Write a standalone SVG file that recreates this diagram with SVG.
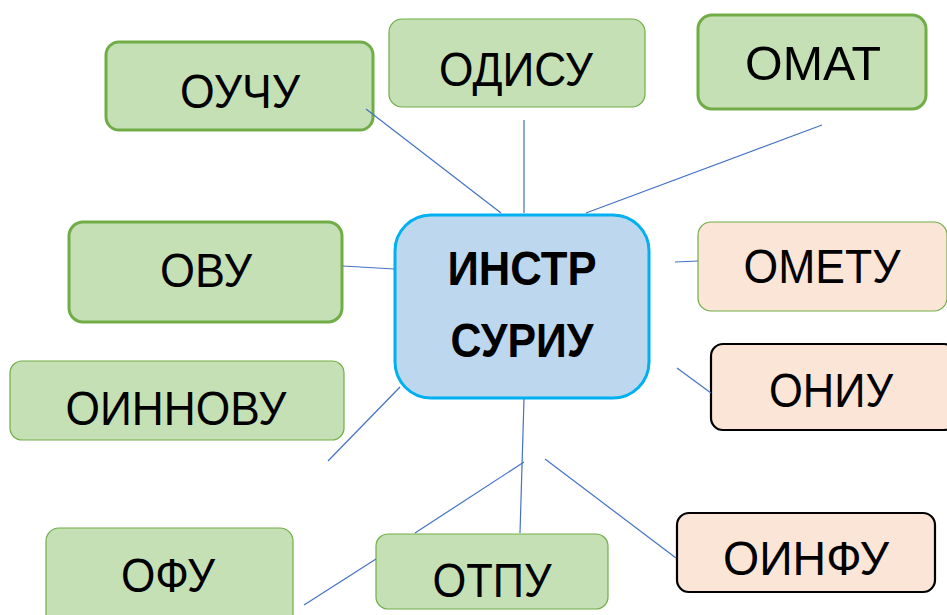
<svg xmlns="http://www.w3.org/2000/svg" width="947" height="615" viewBox="0 0 947 615">
<style>
.g{fill:#C5E0B4;stroke:#70AD47;stroke-width:1.2}
.gt{fill:#C5E0B4;stroke:#70AD47;stroke-width:3}
.p{fill:#FBE5D6;stroke:#70AD47;stroke-width:1.2}
.pb{fill:#FBE5D6;stroke:#000;stroke-width:2.2}
.c{fill:#BDD7EE;stroke:#00B0F0;stroke-width:3}
text{font-family:"Liberation Sans",Arial,sans-serif;font-size:48px;fill:#000;text-anchor:middle}
.b{font-weight:bold}
#connectors line{stroke:#4472C4;stroke-width:1.2}
</style>
<rect width="947" height="615" fill="#fff"/>
<g id="n-ouchu"><rect class="gt" x="106" y="42" width="267" height="88" rx="13"/><text x="240" y="108" textLength="120" lengthAdjust="spacingAndGlyphs">ОУЧУ</text></g>
<g id="n-odisu"><rect class="g" x="389" y="19" width="256" height="88" rx="13"/><text x="516" y="86" textLength="154" lengthAdjust="spacingAndGlyphs">ОДИСУ</text></g>
<g id="n-omat"><rect class="gt" x="698" y="15" width="228" height="94" rx="14"/><text x="813" y="80" textLength="136" lengthAdjust="spacingAndGlyphs">ОМАТ</text></g>
<g id="n-center"><rect class="c" x="395" y="215" width="254" height="183" rx="36"/><text class="b" x="522" y="285" textLength="149" lengthAdjust="spacingAndGlyphs">ИНСТР</text><text class="b" x="522" y="357" textLength="143" lengthAdjust="spacingAndGlyphs">СУРИУ</text></g>
<g id="n-ovu"><rect class="gt" x="69" y="222" width="273" height="100" rx="14"/><text x="206" y="287" textLength="92" lengthAdjust="spacingAndGlyphs">ОВУ</text></g>
<g id="n-oinnovu"><rect class="g" x="10" y="361" width="334" height="79" rx="12"/><text x="176" y="425" textLength="221" lengthAdjust="spacingAndGlyphs">ОИННОВУ</text></g>
<g id="n-ometu"><rect class="p" x="698" y="222" width="249" height="89" rx="13"/><text x="822" y="283" textLength="157" lengthAdjust="spacingAndGlyphs">ОМЕТУ</text></g>
<g id="n-oniu"><rect class="pb" x="711" y="344" width="245" height="86" rx="12"/><text x="831" y="407" textLength="124" lengthAdjust="spacingAndGlyphs">ОНИУ</text></g>
<g id="n-oinfu"><rect class="pb" x="677" y="513" width="258" height="79" rx="12"/><text x="806" y="575" textLength="166" lengthAdjust="spacingAndGlyphs">ОИНФУ</text></g>
<g id="n-ofu"><rect class="g" x="46" y="528" width="247" height="100" rx="13"/><text x="168" y="592" textLength="94" lengthAdjust="spacingAndGlyphs">ОФУ</text></g>
<g id="n-otpu"><rect class="g" x="376" y="534" width="232" height="75" rx="12"/><text x="492" y="597" textLength="119" lengthAdjust="spacingAndGlyphs">ОТПУ</text></g>
<g id="connectors">
<line x1="366" y1="109" x2="501" y2="213"/>
<line x1="524" y1="120" x2="524" y2="213"/>
<line x1="822" y1="125" x2="586" y2="213"/>
<line x1="343" y1="266" x2="394" y2="269"/>
<line x1="675" y1="262" x2="698" y2="261"/>
<line x1="677" y1="368" x2="711" y2="393"/>
<line x1="400" y1="387" x2="328" y2="461"/>
<line x1="524" y1="399" x2="520" y2="533"/>
<line x1="524" y1="462" x2="415" y2="533"/>
<line x1="376" y1="559" x2="304" y2="605"/>
<line x1="545" y1="459" x2="676" y2="558"/>
</g>
</svg>
